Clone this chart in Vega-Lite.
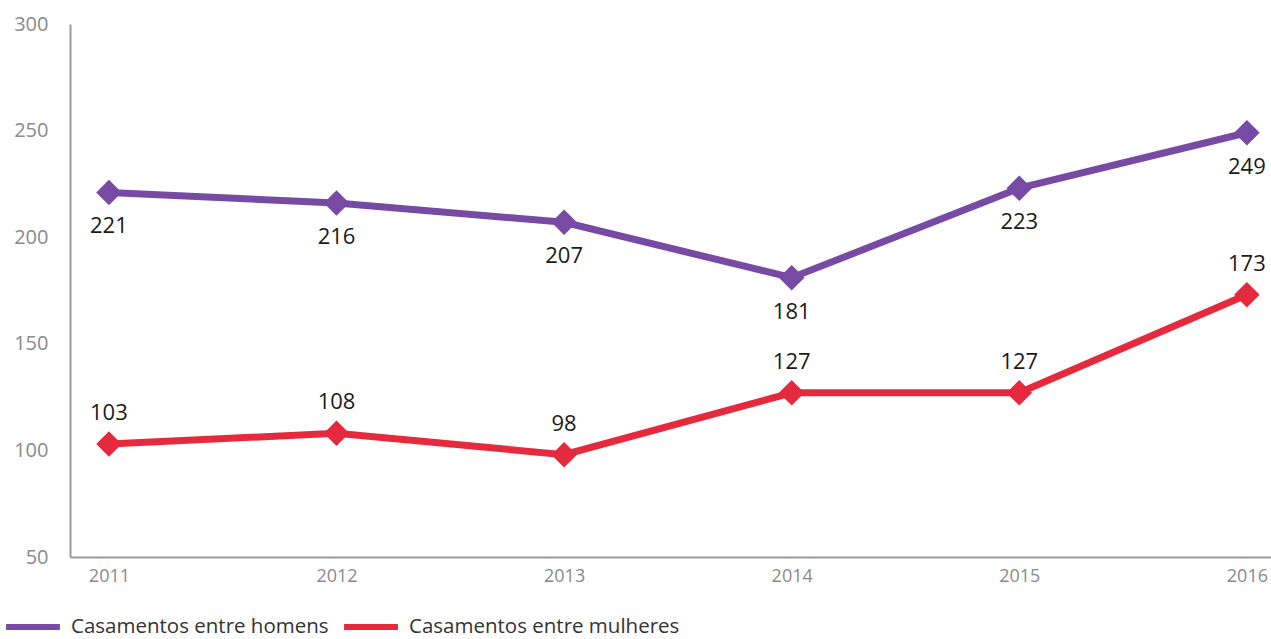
{
  "$schema": "https://vega.github.io/schema/vega-lite/v6.json",
  "autosize": "none",
  "padding": {"left": 70, "top": 24, "right": 0, "bottom": 82},
  "width": 1201,
  "height": 533,
  "background": "white",
  "config": {"view": {"stroke": null}, "font": "Open Sans"},
  "data": {"values": [
    {"ano": 2011, "serie": "Casamentos entre homens", "valor": 221},
    {"ano": 2012, "serie": "Casamentos entre homens", "valor": 216},
    {"ano": 2013, "serie": "Casamentos entre homens", "valor": 207},
    {"ano": 2014, "serie": "Casamentos entre homens", "valor": 181},
    {"ano": 2015, "serie": "Casamentos entre homens", "valor": 223},
    {"ano": 2016, "serie": "Casamentos entre homens", "valor": 249},
    {"ano": 2011, "serie": "Casamentos entre mulheres", "valor": 103},
    {"ano": 2012, "serie": "Casamentos entre mulheres", "valor": 108},
    {"ano": 2013, "serie": "Casamentos entre mulheres", "valor": 98},
    {"ano": 2014, "serie": "Casamentos entre mulheres", "valor": 127},
    {"ano": 2015, "serie": "Casamentos entre mulheres", "valor": 127},
    {"ano": 2016, "serie": "Casamentos entre mulheres", "valor": 173}
  ]},
  "encoding": {
    "x": {"field": "ano", "type": "quantitative",
      "scale": {"domain": [2010.829, 2016.106], "nice": false, "zero": false},
      "axis": {"title": null, "values": [2011, 2012, 2013, 2014, 2015, 2016], "format": "d",
        "grid": false, "ticks": false, "domainColor": "#9a9a9a", "domainWidth": 2,
        "labelColor": "#8a8a8a", "labelFontSize": 18, "labelPadding": 10, "labelFlush": false}},
    "y": {"field": "valor", "type": "quantitative",
      "scale": {"domain": [50, 300], "nice": false, "zero": false},
      "axis": {"title": null, "values": [50, 100, 150, 200, 250, 300], "grid": false, "ticks": false,
        "domainColor": "#9a9a9a", "domainWidth": 2,
        "labelColor": "#8a8a8a", "labelFontSize": 20, "labelPadding": 22}}
  },
  "layer": [
    {
      "mark": {"type": "line", "strokeWidth": 7},
      "encoding": {
        "color": {"field": "serie", "type": "nominal",
          "scale": {"domain": ["Casamentos entre homens", "Casamentos entre mulheres"], "range": ["#774ba3", "#e62a3d"]},
          "legend": {"title": null, "orient": "none", "legendX": -67, "legendY": 573, "direction": "horizontal",
            "symbolType": "stroke", "symbolSize": 2900, "symbolStrokeWidth": 6,
            "labelFontSize": 20.5, "labelColor": "#333333", "columnPadding": 3, "labelOffset": 8, "labelLimit": 400}}
      }
    },
    {
      "mark": {"type": "point", "shape": "diamond", "filled": true, "size": 650, "opacity": 1},
      "encoding": {"color": {"field": "serie", "type": "nominal", "legend": null}}
    },
    {
      "transform": [{"filter": "datum.serie === 'Casamentos entre homens'"}],
      "mark": {"type": "text", "dy": 34, "fontSize": 22, "color": "#1a1a1a"},
      "encoding": {"text": {"field": "valor", "type": "quantitative"}}
    },
    {
      "transform": [{"filter": "datum.serie === 'Casamentos entre mulheres'"}],
      "mark": {"type": "text", "dy": -31, "fontSize": 22, "color": "#1a1a1a"},
      "encoding": {"text": {"field": "valor", "type": "quantitative"}}
    }
  ]
}
